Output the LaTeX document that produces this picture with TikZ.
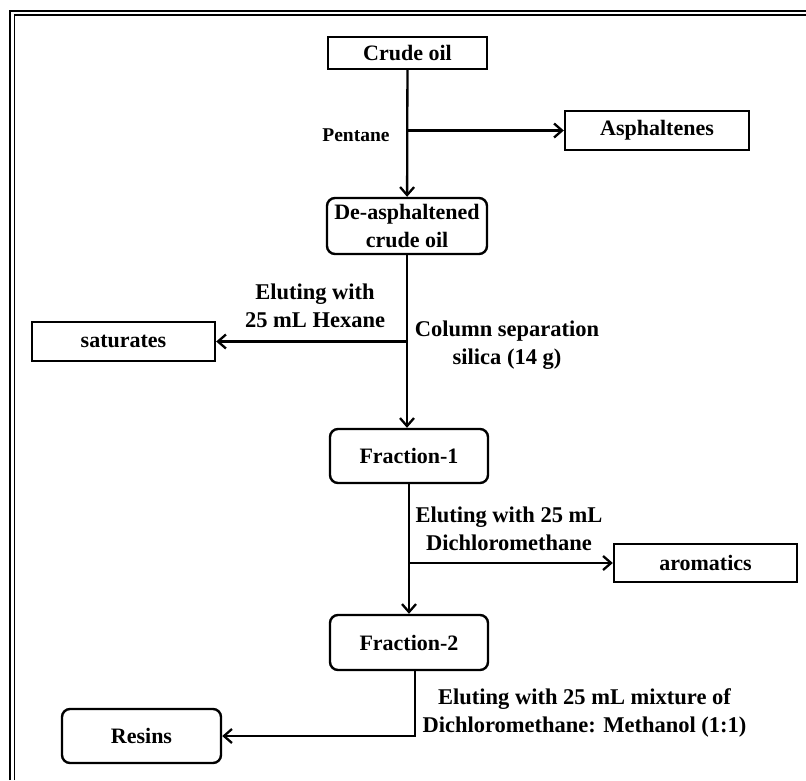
\documentclass[tikz,border=0pt]{standalone}
\usepackage{fontspec}
\setmainfont{Liberation Serif}
\usetikzlibrary{positioning}
\usetikzlibrary{arrows.meta}

\tikzset{
  box/.style={draw, line width=2.4pt, inner sep=0pt, align=center,
    font=\fontsize{22}{28}\selectfont\bfseries},
  rbox/.style={box, rounded corners=8pt},
  arr/.style={line width=2.3pt, -{Straight Barb[length=8pt,width=14pt,line width=2.3pt]}},
  lbl/.style={align=center, inner sep=0pt, font=\fontsize{22.5}{28}\selectfont\bfseries},
}

\begin{document}
\begin{tikzpicture}[x=1pt, y=-1pt]
  \useasboundingbox (0,0) rectangle (806,780);

  % double frame (runs off to the right and bottom)
  \draw[line width=2.6pt] (10,780) -- (10,11) -- (806,11);
  \draw[line width=1.4pt] (14.5,780) -- (14.5,15) -- (806,15);

  % boxes
  \node[box, minimum width=159pt, minimum height=32pt] (crude) at (407.5,53) {Crude oil};
  \node[box, minimum width=184pt, minimum height=39pt] (asph) at (657,130.5) {Asphaltenes};
  \node[rbox, minimum width=160pt, minimum height=56pt] (deasph) at (407,226) {De-asphaltened\\crude oil};
  \node[box, minimum width=183pt, minimum height=39pt] (sat) at (123.5,341.5) {saturates};
  \node[rbox, minimum width=158pt, minimum height=54pt] (fr1) at (409,456) {Fraction-1};
  \node[box, minimum width=183pt, minimum height=38pt] (arom) at (705.5,563) {aromatics};
  \node[rbox, minimum width=158pt, minimum height=55pt] (fr2) at (409,642.5) {Fraction-2};
  \node[rbox, minimum width=159pt, minimum height=54pt] (resins) at (141.5,736) {Resins};

  % labels
  \node[lbl, font=\fontsize{19.5}{24}\selectfont\bfseries] (pent) at (356,135) {Pentane};
  \node[lbl] (hex) at (315,306) {Eluting with\\25 mL Hexane};
  \node[lbl] (col) at (507,345.5) {Column separation\\silica (14 g)};
  \node[lbl] (dcm) at (509,529) {Eluting with 25 mL\\Dichloromethane};
  \node[lbl] (mix) at (584.5,713) {Eluting with 25 mL mixture of\\Dichloromethane: Methanol (1:1)};

  % connectors
  \draw[arr] (crude) -- (deasph);
  \draw[arr] (crude.south |- asph.west) -- (asph);
  \draw[arr] (deasph.south) -- (deasph.south |- fr1.north);
  \draw[arr] (deasph.south |- sat.east) -- (sat);
  \draw[arr] (fr1) -- (fr2);
  \draw[arr] (fr1.south |- arom.west) -- (arom);
  \draw[arr] ([xshift=6pt]fr2.south) |- (resins.east);
\end{tikzpicture}
\end{document}
